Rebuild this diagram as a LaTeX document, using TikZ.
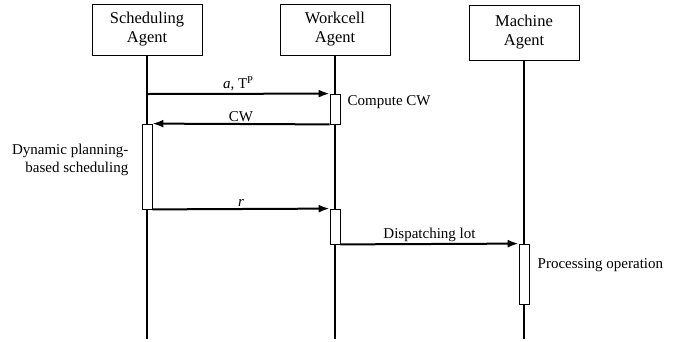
\documentclass[tikz,border=0pt]{standalone}
\usepackage{fontspec}
\setmainfont{Liberation Serif}
\usetikzlibrary{arrows.meta}

\begin{document}
\begin{tikzpicture}[x=1pt,y=-1pt,
        agent/.style={draw,line width=0.8pt,fill=white,minimum width=110pt,
            align=center,font=\fontsize{16.5}{19}\selectfont},
        life/.style={line width=2pt},
        bar/.style={draw,line width=0.8pt,fill=white,minimum width=10pt,inner sep=0pt},
        msg/.style={line width=2pt,-{Latex[length=11pt,width=8pt]}},
        lbl/.style={font=\fontsize{15}{18}\selectfont,inner sep=1.5pt}]
    \useasboundingbox (0,0) rectangle (688,341);

    % Agents
    \node[agent,minimum height=51pt] (sa) at (147,29.5) {Scheduling\\Agent};
    \node[agent,minimum height=51pt] (wa) at (335,29.5) {Workcell\\Agent};
    \node[agent,minimum height=55pt] (ma) at (524,32.5) {Machine\\Agent};

    % Lifelines
    \coordinate (sa end) at (147,339);
    \coordinate (wa end) at (335,339);
    \coordinate (ma end) at (524,339);
    \draw[life] (sa.south) -- (sa end);
    \draw[life] (wa.south) -- (wa end);
    \draw[life] (ma.south) -- (ma end);

    % Activation bars
    \node[bar,minimum height=30pt] (wb1) at (335,109) {};
    \node[bar,minimum height=85pt] (sb1) at (147,166.5) {};
    \node[bar,minimum height=35pt] (wb2) at (335,226.5) {};
    \node[bar,minimum height=60pt] (mb1) at (524,274) {};
    \coordinate (s1) at (147,94);

    % Messages
    \draw[msg] (s1) -- node[lbl,above] {\textit{a}, T\textsuperscript{P}} (wb1.north west);
    \draw[msg] (wb1.south west) -- node[lbl,above] {CW} (sb1.north east);
    \draw[msg] (sb1.south east) -- node[lbl,above] {\textit{r}} (wb2.north west);
    \draw[msg] (wb2.south east) -- node[lbl,above] {Dispatching lot} (mb1.north west);

    % Activities
    \node[lbl,anchor=west] (cw) at (346,102) {Compute CW};
    \node[lbl,anchor=east,align=right] (dps) at (130,160) {Dynamic planning-\\based scheduling};
    \node[lbl,anchor=west] (po) at (536,265) {Processing operation};
\end{tikzpicture}
\end{document}
